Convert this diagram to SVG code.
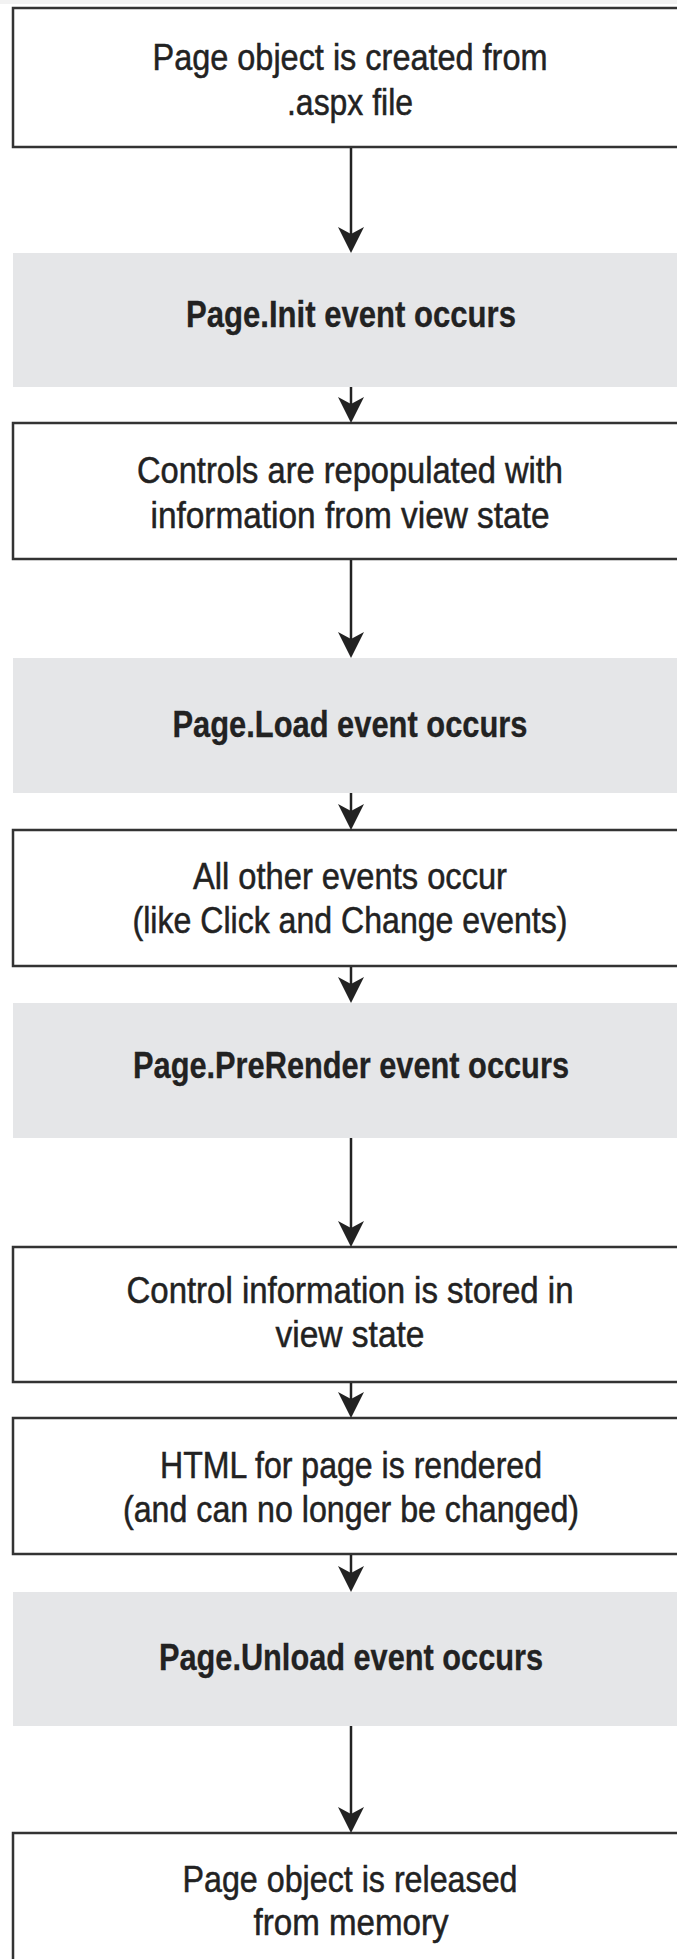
<svg xmlns="http://www.w3.org/2000/svg" width="677" height="1959" viewBox="0 0 677 1959">
<style>
.box{fill:#ffffff;stroke:#333333;stroke-width:2.5}
.ev{fill:#e5e6e8;stroke:none}
.t{font-family:"Liberation Sans",Arial,sans-serif;font-size:36px;fill:#222222;stroke:#222222;stroke-width:0.5;text-anchor:middle}
.b{font-weight:bold;stroke-width:0.3}
.c{stroke:#222222;stroke-width:2.5;fill:none}
</style>
<defs>
<marker id="ah" viewBox="0 -13 26 26" refX="18" refY="0" markerWidth="26" markerHeight="26" markerUnits="userSpaceOnUse" orient="auto">
<path d="M0,-13 L26,0 L0,13 L7,0 Z" fill="#222222"/>
</marker>
</defs>
<rect x="0" y="0" width="677" height="4" fill="#f2f2f2"/>
<g id="n1">
<rect class="box" x="13" y="8" width="690" height="139"/>
<text class="t" x="350" y="70" textLength="395" lengthAdjust="spacingAndGlyphs">Page object is created from</text>
<text class="t" x="350" y="115" textLength="126" lengthAdjust="spacingAndGlyphs">.aspx file</text>
</g>
<g id="n2">
<rect class="ev" x="13" y="253" width="690" height="134"/>
<text class="t b" x="351" y="327" textLength="330" lengthAdjust="spacingAndGlyphs">Page.Init event occurs</text>
</g>
<g id="n3">
<rect class="box" x="13" y="423" width="690" height="136"/>
<text class="t" x="350" y="483" textLength="426" lengthAdjust="spacingAndGlyphs">Controls are repopulated with</text>
<text class="t" x="350" y="528" textLength="399" lengthAdjust="spacingAndGlyphs">information from view state</text>
</g>
<g id="n4">
<rect class="ev" x="13" y="658" width="690" height="135"/>
<text class="t b" x="350" y="737" textLength="355" lengthAdjust="spacingAndGlyphs">Page.Load event occurs</text>
</g>
<g id="n5">
<rect class="box" x="13" y="830" width="690" height="136"/>
<text class="t" x="350" y="889" textLength="314" lengthAdjust="spacingAndGlyphs">All other events occur</text>
<text class="t" x="350" y="933" textLength="435" lengthAdjust="spacingAndGlyphs">(like Click and Change events)</text>
</g>
<g id="n6">
<rect class="ev" x="13" y="1003" width="690" height="135"/>
<text class="t b" x="351" y="1078" textLength="436" lengthAdjust="spacingAndGlyphs">Page.PreRender event occurs</text>
</g>
<g id="n7">
<rect class="box" x="13" y="1247" width="690" height="135"/>
<text class="t" x="350" y="1303" textLength="447" lengthAdjust="spacingAndGlyphs">Control information is stored in</text>
<text class="t" x="350" y="1347" textLength="149" lengthAdjust="spacingAndGlyphs">view state</text>
</g>
<g id="n8">
<rect class="box" x="13" y="1418" width="690" height="136"/>
<text class="t" x="351" y="1478" textLength="382" lengthAdjust="spacingAndGlyphs">HTML for page is rendered</text>
<text class="t" x="351" y="1522" textLength="456" lengthAdjust="spacingAndGlyphs">(and can no longer be changed)</text>
</g>
<g id="n9">
<rect class="ev" x="13" y="1592" width="690" height="134"/>
<text class="t b" x="351" y="1670" textLength="384" lengthAdjust="spacingAndGlyphs">Page.Unload event occurs</text>
</g>
<g id="n10">
<rect class="box" x="13" y="1833" width="690" height="140"/>
<text class="t" x="350" y="1892" textLength="335" lengthAdjust="spacingAndGlyphs">Page object is released</text>
<text class="t" x="351" y="1935" textLength="195" lengthAdjust="spacingAndGlyphs">from memory</text>
</g>
<g id="connectors">
<line class="c" x1="351" y1="148" x2="351" y2="245" marker-end="url(#ah)"/>
<line class="c" x1="351" y1="387" x2="351" y2="415" marker-end="url(#ah)"/>
<line class="c" x1="351" y1="560" x2="351" y2="650" marker-end="url(#ah)"/>
<line class="c" x1="351" y1="793" x2="351" y2="822" marker-end="url(#ah)"/>
<line class="c" x1="351" y1="967" x2="351" y2="995" marker-end="url(#ah)"/>
<line class="c" x1="351" y1="1138" x2="351" y2="1239" marker-end="url(#ah)"/>
<line class="c" x1="351" y1="1383" x2="351" y2="1410" marker-end="url(#ah)"/>
<line class="c" x1="351" y1="1555" x2="351" y2="1584" marker-end="url(#ah)"/>
<line class="c" x1="351" y1="1726" x2="351" y2="1825" marker-end="url(#ah)"/>
</g>
</svg>
